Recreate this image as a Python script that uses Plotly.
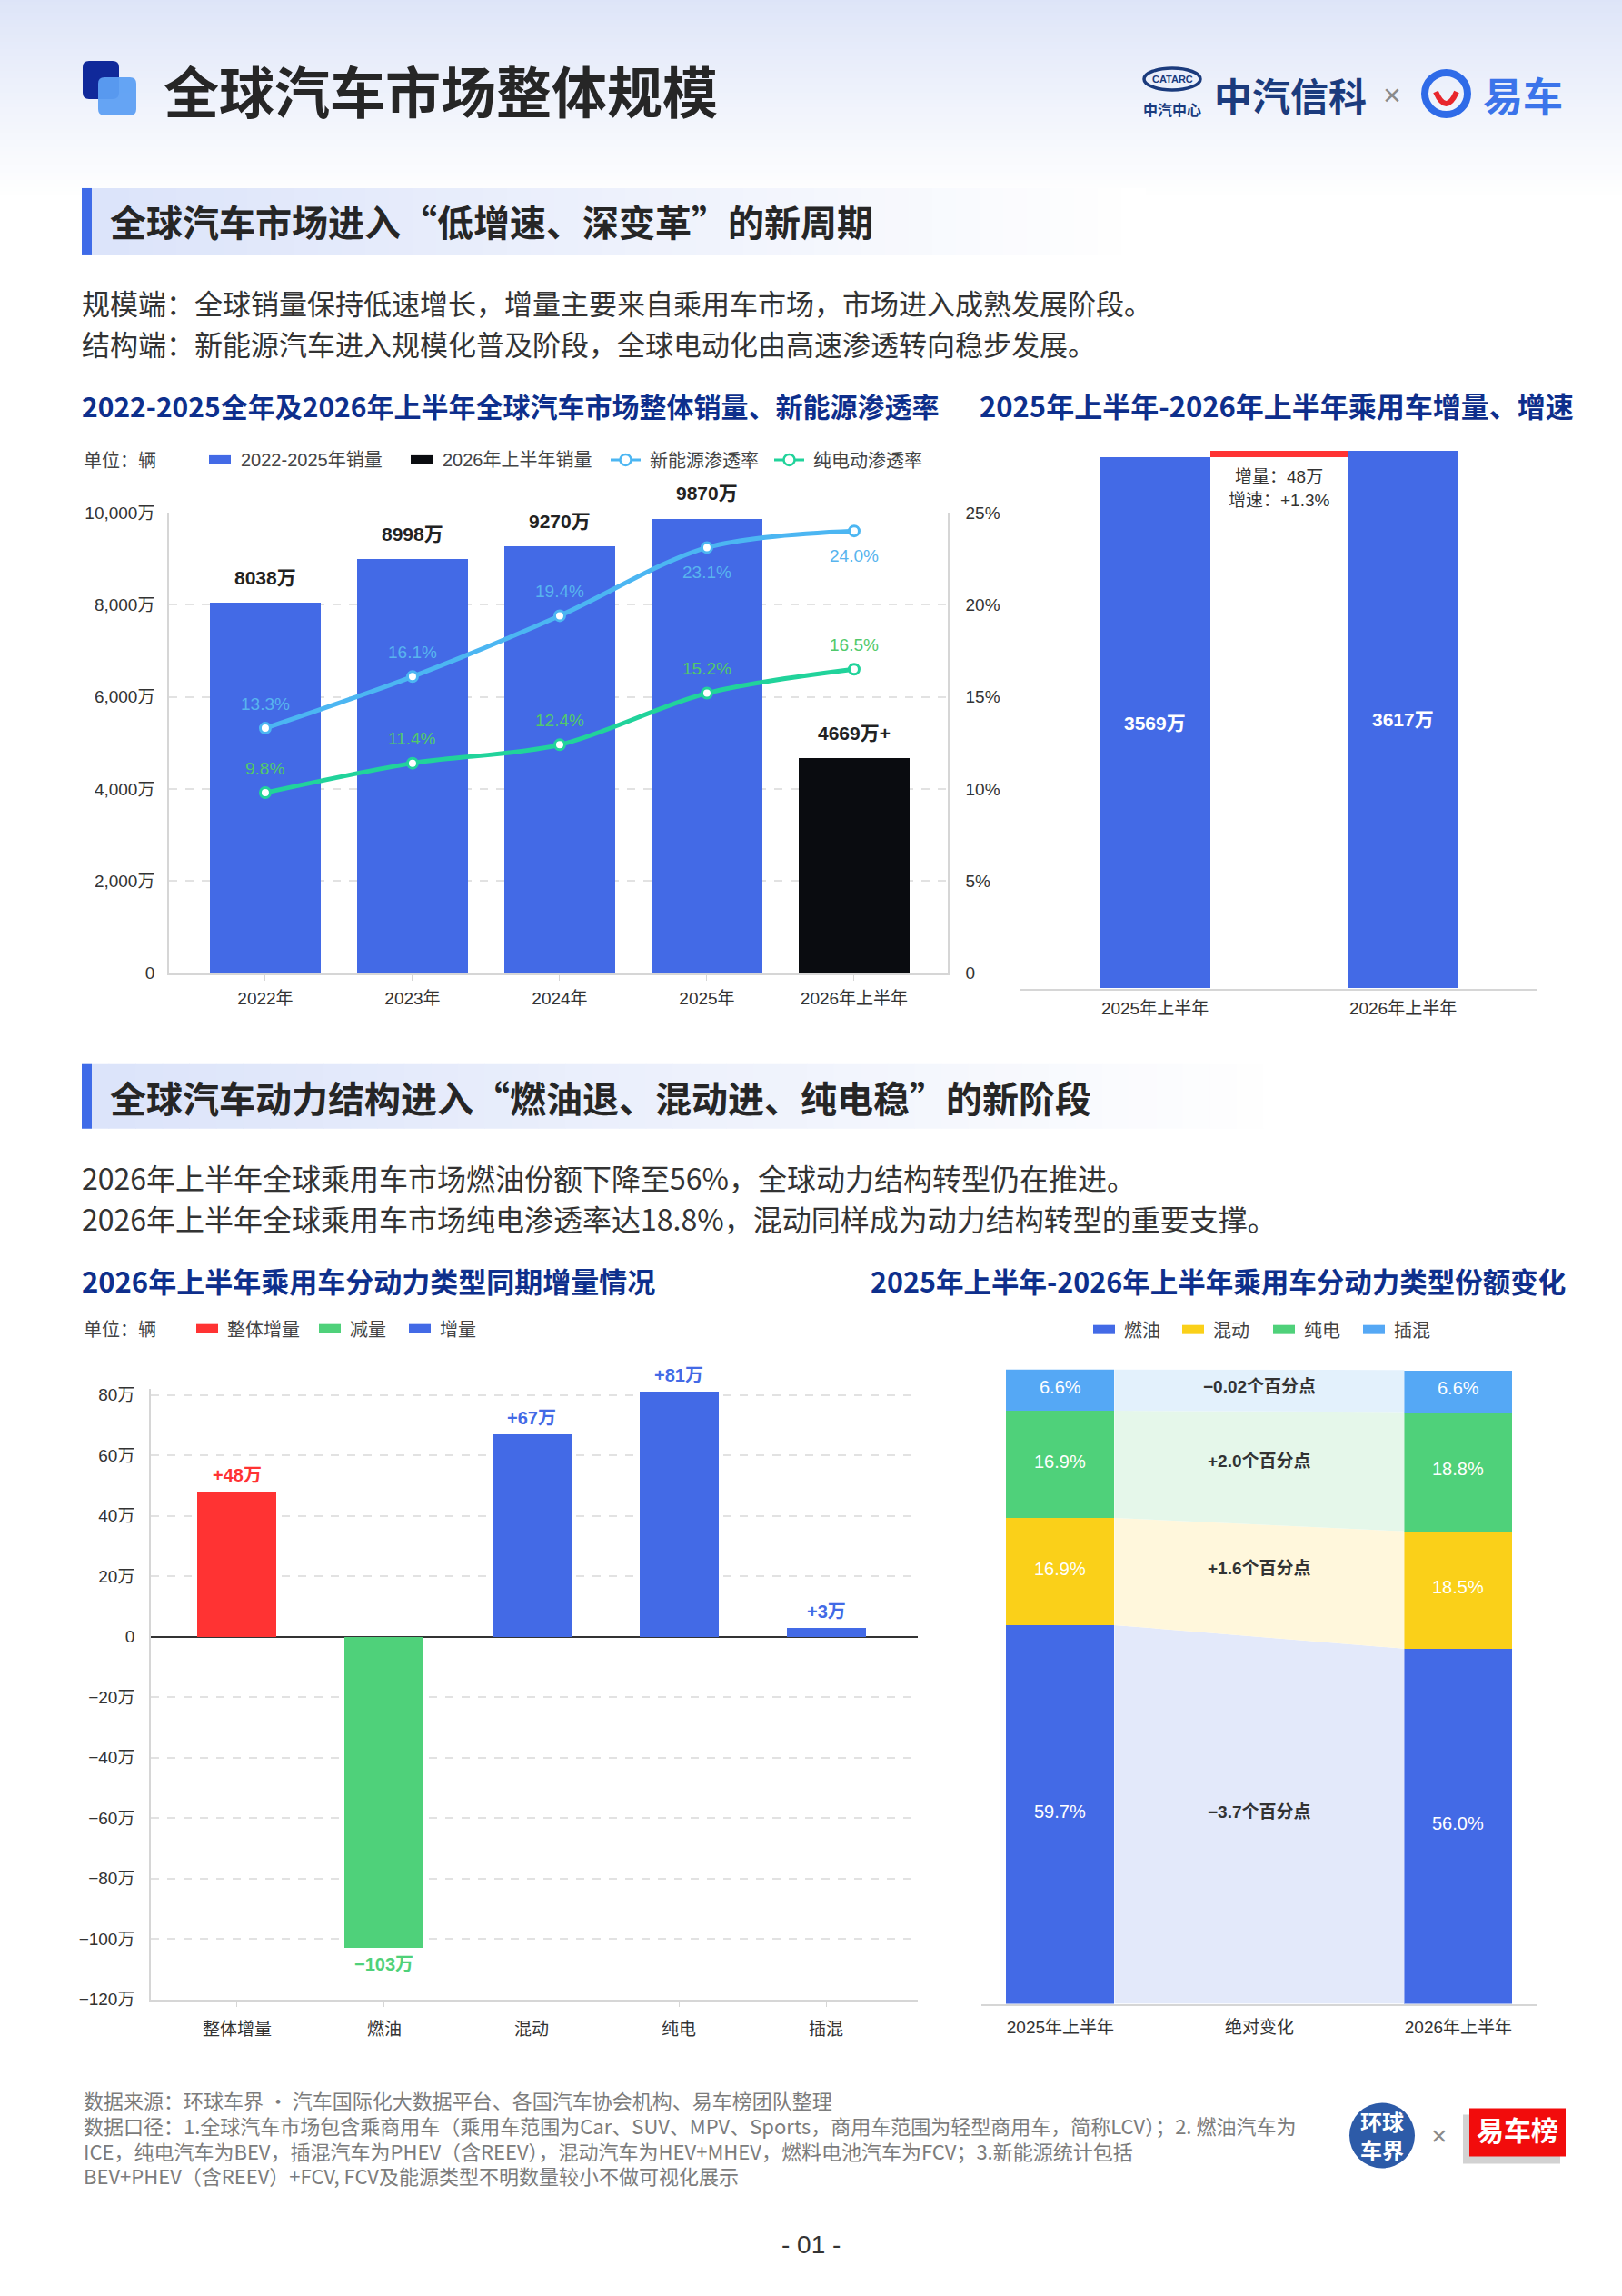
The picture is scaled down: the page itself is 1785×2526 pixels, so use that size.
import plotly.graph_objects as go

W, H = 1785, 2526


def px(x):
    return x / W


def py(y):
    # small vertical calibration so the photographed page lines up with the reference
    yy = 1.00816 * y - 12.1
    return 1 - yy / H


CJK = "Noto Sans CJK SC"
NUMF = "Liberation Sans, Noto Sans CJK SC"
BLUE = "#436ae6"
BLACK = "#0a0c10"
RED = "#ff3333"
GREEN = "#4fd17a"
YELLOW = "#fad019"
LBLUE = "#55a8f5"
NEV_C = "#4cb6f2"
BEV_C = "#21d39b"
NAVY = "#0e2f8c"
TXT = "#333333"

# ---------------- data ----------------
years = ["2022年", "2023年", "2024年", "2025年", "2026年上半年"]
sales = [8038, 8998, 9270, 9870, 4669]
sales_suffix = ["", "", "", "", "+"]
nev_rate = [13.3, 16.1, 19.4, 23.1, 24.0]
bev_rate = [9.8, 11.4, 12.4, 15.2, 16.5]
sales_ticks = [0, 2000, 4000, 6000, 8000, 10000]
rate_ticks = [0, 5, 10, 15, 20, 25]

h1_cats = ["2025年上半年", "2026年上半年"]
h1_sales = [3569, 3617]
h1_increase = 48

pt_cats = ["整体增量", "燃油", "混动", "纯电", "插混"]
pt_delta = [48, -103, 67, 81, 3]
delta_ticks = [-120, -100, -80, -60, -40, -20, 0, 20, 40, 60, 80]

share_cats = ["2025年上半年", "绝对变化", "2026年上半年"]
share_types = ["燃油", "混动", "纯电", "插混"]
share_2025 = [59.7, 16.9, 16.9, 6.6]
share_2026 = [56.0, 18.5, 18.8, 6.6]
share_change = ["−3.7", "+1.6", "+2.0", "−0.02"]

share_colors = [BLUE, YELLOW, GREEN, LBLUE]
ribbon_colors = ["#e3e9fa", "#fff7dc", "#e5f7ea", "#e3f1fc"]

fig = go.Figure()
shapes = []
anns = []


def text(x, y, s, size, color=TXT, bold=False, anchor="left", family=CJK, va="middle"):
    anns.append(dict(x=px(x), y=py(y), xref="paper", yref="paper", text=("<b>%s</b>" % s) if bold else s,
                     showarrow=False, xanchor=anchor, yanchor=va,
                     font=dict(size=size, color=color, family=family)))


def rect(x0, y0, x1, y1, color, layer="above", opacity=1.0, line=None):
    d = dict(type="rect", xref="paper", yref="paper", x0=px(x0), x1=px(x1), y0=py(y1), y1=py(y0),
             fillcolor=color, line=dict(width=0), layer=layer, opacity=opacity)
    if line:
        d["line"] = line
    shapes.append(d)


def rrect_path(x0, y0, x1, y1, r):
    def P(x, y):
        return "%.5f,%.5f" % (px(x), py(y))
    return ("M %s L %s Q %s %s L %s Q %s %s L %s Q %s %s L %s Q %s %s Z" % (
        P(x0 + r, y0), P(x1 - r, y0), P(x1, y0), P(x1, y0 + r), P(x1, y1 - r), P(x1, y1), P(x1 - r, y1),
        P(x0 + r, y1), P(x0, y1), P(x0, y1 - r), P(x0, y0 + r), P(x0, y0), P(x0 + r, y0)))


# ---------------- background decorations ----------------
n = 58
for i in range(n):
    t = i / (n - 1)
    f = t ** 0.9
    c = tuple(int(a + (255 - a) * f) for a in (219, 227, 248))
    rect(0, i * 4 - 12, W, i * 4 - 12 + 4.6, "rgb(%d,%d,%d)" % c, layer="below")


def band(y0, y1, xend):
    m = 45
    step = (xend - 90) / m
    for i in range(m):
        t = i / (m - 1)
        c = tuple(int(a + (255 - a) * t) for a in (220, 228, 250))
        rect(90 + i * step, y0, 90 + (i + 1) * step + 0.8, y1, "rgb(%d,%d,%d)" % c, layer="below")
    rect(90, y0, 101, y1, "#3f6be8", layer="below")


band(209, 282, 1260)
band(1173, 1244, 1420)

# title icon
shapes.append(dict(type="path", xref="paper", yref="paper", path=rrect_path(91, 69, 131, 111, 7),
                   fillcolor="#10299a", line=dict(width=0)))
shapes.append(dict(type="path", xref="paper", yref="paper", path=rrect_path(108, 87, 150, 129, 7),
                   fillcolor="#5d9ff3", line=dict(width=0), opacity=0.95))
text(178, 101, "全球汽车市场整体规模", 61, "#262626", bold=True)

# header logos
shapes.append(dict(type="circle", xref="paper", yref="paper", x0=px(1259), x1=px(1321), y0=py(101), y1=py(77),
                   line=dict(color="#1b3b7d", width=3.5), fillcolor="rgba(0,0,0,0)"))
text(1290, 89, "CATARC", 11, "#1b3b7d", bold=True, anchor="center", family=NUMF)
text(1290, 122, "中汽中心", 16, "#1b3b7d", bold=True, anchor="center")
text(1334, 106, "中汽信科", 42, "#1b3b7d", bold=True)
text(1532, 106, "×", 34, "#8a8a8a", anchor="center", family=NUMF)
shapes.append(dict(type="circle", xref="paper", yref="paper", x0=px(1568), x1=px(1615), y0=py(128), y1=py(82),
                   line=dict(color="#2f6be8", width=8), fillcolor="rgba(0,0,0,0)"))
shapes.append(dict(type="path", xref="paper", yref="paper",
                   path="M %.5f,%.5f Q %.5f,%.5f %.5f,%.5f" % (px(1580), py(103), px(1591.5), py(129), px(1603), py(103)),
                   line=dict(color="#e8262c", width=6)))
text(1630, 106, "易车", 44, "#3b74ea", bold=True)

# section titles & body text
text(119, 245, "全球汽车市场进入“低增速、深变革”的新周期", 40, "#262626", bold=True)
text(88, 335, "规模端：全球销量保持低速增长，增量主要来自乘用车市场，市场进入成熟发展阶段。", 31, TXT)
text(88, 380, "结构端：新能源汽车进入规模化普及阶段，全球电动化由高速渗透转向稳步发展。", 31, TXT)
text(119, 1209, "全球汽车动力结构进入“燃油退、混动进、纯电稳”的新阶段", 40, "#262626", bold=True)
text(88, 1297, "2026年上半年全球乘用车市场燃油份额下降至56%，全球动力结构转型仍在推进。", 32, TXT)
text(88, 1342, "2026年上半年全球乘用车市场纯电渗透率达18.8%，混动同样成为动力结构转型的重要支撑。", 32, TXT)

# chart titles
text(88, 448, "2022-2025全年及2026年上半年全球汽车市场整体销量、新能源渗透率", 30, NAVY, bold=True)
text(1076, 448, "2025年上半年-2026年上半年乘用车增量、增速", 31, NAVY, bold=True)
text(88, 1411, "2026年上半年乘用车分动力类型同期增量情况", 31, NAVY, bold=True)
text(956, 1411, "2025年上半年-2026年上半年乘用车分动力类型份额变化", 30.5, NAVY, bold=True)

# ---------------- legends ----------------
LG = "#444444"
LS = 20
text(90, 508, "单位：辆", LS, LG)
rect(230, 503, 254, 513, BLUE)
text(263, 508, "2022-2025年销量", LS, LG, family=NUMF)
rect(452, 503, 476, 513, BLACK)
text(485, 508, "2026年上半年销量", LS, LG, family=NUMF)
for (x0, x1, c, lab) in [(672, 705, NEV_C, "新能源渗透率"), (852, 885, BEV_C, "纯电动渗透率")]:
    shapes.append(dict(type="line", xref="paper", yref="paper", x0=px(x0), x1=px(x1), y0=py(508), y1=py(508),
                       line=dict(color=c, width=3)))
    cx = (x0 + x1) / 2
    shapes.append(dict(type="circle", xref="paper", yref="paper", x0=px(cx - 6), x1=px(cx + 6), y0=py(514),
                       y1=py(502), line=dict(color=c, width=2.5), fillcolor="white"))
    text(x1 + 8, 508, lab, LS, LG)

text(90, 1464, "单位：辆", LS, LG)
for (x0, c, lab) in [(216, RED, "整体增量"), (351, GREEN, "减量"), (450, BLUE, "增量")]:
    rect(x0, 1459, x0 + 24, 1469, c)
    text(x0 + 32, 1464, lab, LS, LG)

for (x0, c, lab) in zip([1203, 1301, 1401, 1500], share_colors, share_types):
    rect(x0, 1460, x0 + 24, 1470, c)
    text(x0 + 32, 1465, lab, LS, LG)

# ---------------- chart 1 ----------------
fig.add_trace(go.Bar(x=list(range(len(years))), y=sales, width=0.75,
                     marker=dict(color=[BLUE] * (len(sales) - 1) + [BLACK], line=dict(width=0)),
                     xaxis="x", yaxis="y", hoverinfo="skip"))
for i, v in enumerate(sales):
    anns.append(dict(x=i, y=v, xref="x", yref="y", text="<b>%d万%s</b>" % (v, sales_suffix[i]), showarrow=False,
                     yanchor="bottom", yshift=14, font=dict(size=21, color="#222", family=NUMF)))

fig.add_trace(go.Scatter(x=list(range(len(years))), y=nev_rate, mode="lines+markers", xaxis="x", yaxis="y2",
                         line=dict(color=NEV_C, width=5, shape="spline", smoothing=0.9),
                         marker=dict(size=11, color="white", line=dict(color=NEV_C, width=3)), hoverinfo="skip"))
fig.add_trace(go.Scatter(x=list(range(len(years))), y=bev_rate, mode="lines+markers", xaxis="x", yaxis="y2",
                         line=dict(color=BEV_C, width=5, shape="spline", smoothing=0.9),
                         marker=dict(size=11, color="white", line=dict(color=BEV_C, width=3)), hoverinfo="skip"))
nev_pos = [1, 1, 1, -1, -1]
for i, v in enumerate(nev_rate):
    anns.append(dict(x=i, y=v, xref="x", yref="y2", text="%.1f%%" % v, showarrow=False,
                     yshift=27 if nev_pos[i] > 0 else -27, font=dict(size=19, color="#58b4ee", family=NUMF)))
for i, v in enumerate(bev_rate):
    anns.append(dict(x=i, y=v, xref="x", yref="y2", text="%.1f%%" % v, showarrow=False,
                     yshift=27, font=dict(size=19, color="#52c96a", family=NUMF)))

# ---------------- chart 2 ----------------
fig.add_trace(go.Bar(x=[0, 1], y=h1_sales, width=0.447, marker=dict(color=BLUE, line=dict(width=0)),
                     xaxis="x2", yaxis="y3", hoverinfo="skip"))
fig.add_trace(go.Bar(x=[0.5], y=[h1_increase], base=[h1_sales[0]], width=0.553,
                     marker=dict(color=RED, line=dict(width=0)), xaxis="x2", yaxis="y3", hoverinfo="skip"))
for i, v in enumerate(h1_sales):
    anns.append(dict(x=i, y=v / 2, xref="x2", yref="y3", text="<b>%d万</b>" % v, showarrow=False,
                     font=dict(size=21, color="white", family=NUMF)))
growth = h1_increase / h1_sales[0] * 100
anns.append(dict(x=0.5, y=h1_sales[0], xref="x2", yref="y3", text="增量：%d万" % h1_increase, showarrow=False,
                 yanchor="top", yshift=-8, font=dict(size=19, color="#333", family=NUMF)))
anns.append(dict(x=0.5, y=h1_sales[0], xref="x2", yref="y3", text="增速：+%.1f%%" % growth, showarrow=False,
                 yanchor="top", yshift=-34, font=dict(size=19, color="#333", family=NUMF)))

# ---------------- chart 3 ----------------
pt_colors = [RED if i == 0 else (GREEN if v < 0 else BLUE) for i, v in enumerate(pt_delta)]
fig.add_trace(go.Bar(x=list(range(len(pt_cats))), y=pt_delta, width=0.537,
                     marker=dict(color=pt_colors, line=dict(width=0)), xaxis="x3", yaxis="y4", hoverinfo="skip"))
for i, v in enumerate(pt_delta):
    lab = ("+%d万" % v) if v > 0 else ("−%d万" % abs(v))
    anns.append(dict(x=i, y=v, xref="x3", yref="y4", text="<b>%s</b>" % lab, showarrow=False,
                     yanchor="bottom" if v > 0 else "top", yshift=5 if v > 0 else -5,
                     font=dict(size=20, color=pt_colors[i], family=NUMF)))

# ---------------- chart 4 ----------------
hw = 0.543 / 2
b25 = [sum(share_2025[:k]) for k in range(len(share_types))]
b26 = [sum(share_2026[:k]) for k in range(len(share_types))]
for k in range(len(share_types)):
    t25 = b25[k] + share_2025[k]
    t26 = b26[k] + share_2026[k]
    fig.add_trace(go.Scatter(x=[hw, 2 - hw, 2 - hw, hw, hw], y=[b25[k], b26[k], t26, t25, b25[k]],
                             fill="toself", fillcolor=ribbon_colors[k], mode="lines", line=dict(width=0),
                             xaxis="x4", yaxis="y5", hoverinfo="skip"))
for k in range(len(share_types)):
    fig.add_trace(go.Bar(x=[0, 2], y=[share_2025[k], share_2026[k]], base=[b25[k], b26[k]], width=0.543,
                         marker=dict(color=share_colors[k], line=dict(width=0)), xaxis="x4", yaxis="y5",
                         hoverinfo="skip"))
    for xi, b, v in [(0, b25[k], share_2025[k]), (2, b26[k], share_2026[k])]:
        anns.append(dict(x=xi, y=b + v / 2, xref="x4", yref="y5", text="%.1f%%" % v, showarrow=False,
                         yshift=3, font=dict(size=20, color="white", family=NUMF)))
    anns.append(dict(x=1, y=b25[k] + share_2025[k] / 2, xref="x4", yref="y5",
                     text="<b>%s个百分点</b>" % share_change[k], showarrow=False, yshift=3,
                     font=dict(size=19, color="#333", family=NUMF)))

# ---------------- footer ----------------
FG = "#7c7c7c"
FS = 22
text(90, 2313, "数据来源：环球车界 · 汽车国际化大数据平台、各国汽车协会机构、易车榜团队整理", FS, FG)
text(90, 2341, "数据口径：1.全球汽车市场包含乘商用车（乘用车范围为Car、SUV、MPV、Sports，商用车范围为轻型商用车，简称LCV）；2. 燃油汽车为", FS, FG)
text(90, 2369, "ICE，纯电汽车为BEV，插混汽车为PHEV（含REEV），混动汽车为HEV+MHEV，燃料电池汽车为FCV；3.新能源统计包括", FS, FG)
text(90, 2396, "BEV+PHEV（含REEV）+FCV, FCV及能源类型不明数量较小不做可视化展示", FS, FG)
text(892, 2472, "- 01 -", 28, TXT, anchor="center", family=NUMF)

shapes.append(dict(type="circle", xref="paper", yref="paper", x0=px(1485), x1=px(1557), y0=py(2388), y1=py(2316),
                   fillcolor="#2d5ba8", line=dict(width=0)))
text(1521, 2352, "环球<br>车界", 24, "white", bold=True, anchor="center")
text(1584, 2352, "×", 30, "#8a8a8a", anchor="center", family=NUMF)
rect(1610, 2329, 1717, 2383, "#d2d2d2")
rect(1617, 2322, 1723, 2375, "#f20c0c")
text(1670, 2345, "易车榜", 30, "white", bold=True, anchor="center")

# ---------------- axes ----------------
grid = dict(showgrid=True, gridcolor="#e2e2e2", griddash="dash", gridwidth=1.5)
tickf = dict(size=19, color=TXT, family=NUMF)
layout = dict(
    width=W, height=H, margin=dict(l=0, r=0, t=0, b=0), paper_bgcolor="white", plot_bgcolor="rgba(0,0,0,0)",
    showlegend=False, barmode="overlay", bargap=0,
    xaxis=dict(domain=[px(186), px(1043)], range=[-0.654, 4.636], anchor="y", tickvals=list(range(len(years))),
               ticktext=years, showline=True, linecolor="#d6d6d6", linewidth=1.5, ticks="outside", ticklen=6,
               tickcolor="#d6d6d6", showgrid=False, zeroline=False, tickfont=tickf, ticklabelstandoff=4,
               fixedrange=True),
    yaxis=dict(domain=[py(1073), py(566)], range=[0, 10000], anchor="x", tickvals=sales_ticks,
               ticktext=[("%s万" % format(v, ",")) if v else "0" for v in sales_ticks], showline=True,
               linecolor="#d6d6d6", linewidth=1.5, zeroline=False, tickfont=tickf, ticklabelstandoff=10, **grid),
    yaxis2=dict(overlaying="y", side="right", anchor="x", range=[0, 25], tickvals=rate_ticks,
                ticktext=[("%d%%" % v) if v else "0" for v in rate_ticks], showgrid=False, showline=True,
                linecolor="#d6d6d6", linewidth=1.5, zeroline=False, tickfont=tickf, ticklabelstandoff=14),
    xaxis2=dict(domain=[px(1122), px(1692)], range=[-0.546, 1.542], anchor="y3", tickvals=[0, 1],
                ticktext=h1_cats, showline=True, linecolor="#d6d6d6", linewidth=1.5, ticks="", showgrid=False,
                zeroline=False, tickfont=tickf, ticklabelstandoff=4),
    yaxis3=dict(domain=[py(1090), py(1090 - (1090 - 498) / h1_sales[1] * 3700)], range=[0, 3700], anchor="x2",
                visible=False),
    xaxis3=dict(domain=[px(166), px(1010)], range=[-0.586, 4.623], anchor="y4", tickvals=list(range(len(pt_cats))),
                ticktext=pt_cats, showline=True, linecolor="#d6d6d6", linewidth=1.5, ticks="outside", ticklen=7,
                tickcolor="#d6d6d6", showgrid=False, zeroline=False, tickfont=tickf, ticklabelstandoff=8),
    yaxis4=dict(domain=[py(2202), py(1530.4)], range=[-120, 82], anchor="x3", tickvals=delta_ticks,
                ticktext=[("%d万" % v if v > 0 else ("−%d万" % abs(v))) if v else "0" for v in delta_ticks],
                showline=True, linecolor="#d6d6d6", linewidth=1.5, zeroline=True, zerolinecolor="#333",
                zerolinewidth=1.5, tickfont=tickf, ticklabelstandoff=12, **grid),
    xaxis4=dict(domain=[px(1080), px(1691)], range=[-0.397, 2.393], anchor="y5", tickvals=[0, 1, 2],
                ticktext=share_cats, showline=True, linecolor="#d6d6d6", linewidth=1.5, ticks="", showgrid=False,
                zeroline=False, tickfont=tickf, ticklabelstandoff=8),
    yaxis5=dict(domain=[py(2207), py(1509)], range=[0, 100], anchor="x4", visible=False),
    shapes=shapes, annotations=anns,
)
fig.update_layout(**layout)
fig.write_html(
    "out.html",
    config={"displayModeBar": False, "responsive": False},
    post_script=(
        "document.documentElement.style.margin='0';document.body.style.margin='0';"
        "document.documentElement.style.overflow='hidden';"
        "var gd=document.getElementById('{plot_id}');"
        "gd.style.position='fixed';gd.style.left='0px';gd.style.top='0px';"
    ),
)
